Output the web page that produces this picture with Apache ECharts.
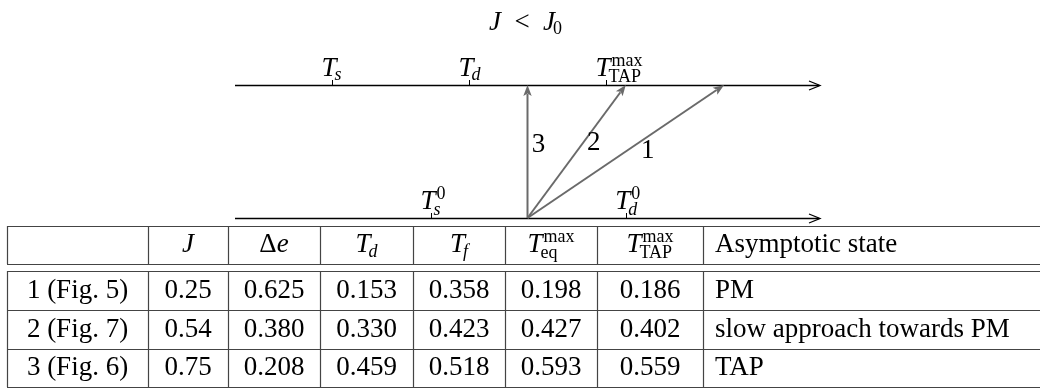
<!DOCTYPE html>
<html lang="en" style="height: 100%">
<head>
  <meta charset="utf-8">
</head>
<body style="height: 100%; margin: 0; background: #fff">
  <div id="container" style="width: 1040px; height: 391px"></div>

  <script type="text/javascript" src="https://cdn.jsdelivr.net/npm/echarts@6/dist/echarts.min.js"></script>
  <script type="text/javascript">
    // --- diagram data (schematic temperature axis, 0..100) ---
    var titleAtoms = [{ t: 'J', it: true }, { t: '\u2002<\u2002' }, { t: 'J', it: true, sub: '0' }];
    var topTickPos = [16.6, 40.0, 63.4];
    var topTickLabels = [
      [{ t: 'T', it: true, sub: 's', subIt: true }],
      [{ t: 'T', it: true, sub: 'd', subIt: true }],
      [{ t: 'T', it: true, sub: 'TAP', sup: 'max' }]
    ];
    var bottomTickPos = [33.5, 66.8];
    var bottomTickLabels = [
      [{ t: 'T', it: true, sub: 's', subIt: true, sup: '0' }],
      [{ t: 'T', it: true, sub: 'd', subIt: true, sup: '0' }]
    ];
    var arrowFrom = 50.0;            // on the lower axis
    var arrowTo = [83.6, 66.8, 50.0]; // on the upper axis
    var arrowNames = ['1', '2', '3'];

    // --- table data ---
    var headerCells = [
      [],
      [{ t: 'J', it: true }],
      [{ t: 'Δ' }, { t: 'e', it: true }],
      [{ t: 'T', it: true, sub: 'd', subIt: true }],
      [{ t: 'T', it: true, sub: 'f', subIt: true }],
      [{ t: 'T', it: true, sub: 'eq', sup: 'max' }],
      [{ t: 'T', it: true, sub: 'TAP', sup: 'max' }],
      [{ t: 'Asymptotic state' }]
    ];
    var runLabels = ['1 (Fig. 5)', '2 (Fig. 7)', '3 (Fig. 6)'];
    var jValues = [0.25, 0.54, 0.75];
    var deltaE = [0.625, 0.380, 0.208];
    var tD = [0.153, 0.330, 0.459];
    var tF = [0.358, 0.423, 0.518];
    var tEqMax = [0.198, 0.427, 0.593];
    var tTapMax = [0.186, 0.402, 0.559];
    var states = ['PM', 'slow approach towards PM', 'TAP'];

    // table layout (pixel-like units of the table grid)
    var colEdges = [7, 148, 228, 320, 413, 505, 597, 703, 1040];
    var rowTop = [0, 45, 84, 123];
    var rowBottom = [38, 84, 123, 161];

    var FONT = '"Liberation Serif", "DejaVu Serif", serif';
    var SIZE = 27;
    var SCRIPT = 18;
    var mctx = document.createElement('canvas').getContext('2d');
    function fontOf(size, it) { return (it ? 'italic ' : '') + size + 'px ' + FONT; }
    function tw(s, size, it) { mctx.font = fontOf(size, it); return mctx.measureText(s).width; }
    function textEl(text, x, y, font, fill) {
      return {
        type: 'text',
        style: {
          text: text, x: x, y: y, font: font, fill: fill || '#000',
          align: 'left', verticalAlign: 'middle', textAlign: 'left', textVerticalAlign: 'middle'
        }
      };
    }
    function atomLayout(a, size) {
      var ss = Math.round(size * SCRIPT / SIZE);
      var w = tw(a.t, size, a.it);
      var subX = w - (a.it ? 2 : 0);
      var supX = w + (a.it ? 1 : 0);
      var total = w;
      if (a.sub) total = Math.max(total, subX + tw(a.sub, ss, a.subIt));
      if (a.sup) total = Math.max(total, supX + tw(a.sup, ss, false));
      return { ss: ss, w: w, subX: subX, supX: supX, total: total };
    }
    function mathWidth(atoms, size) {
      return atoms.reduce(function (s, a) { return s + atomLayout(a, size).total; }, 0);
    }
    function mathEls(atoms, x, y, size, align, fill) {
      var width = mathWidth(atoms, size);
      var cx = align === 'center' ? x - width / 2 : (align === 'right' ? x - width : x);
      var els = [];
      atoms.forEach(function (a) {
        var L = atomLayout(a, size);
        var both = a.sub && a.sup;
        els.push(textEl(a.t, cx, y, fontOf(size, a.it), fill));
        if (a.sub) els.push(textEl(a.sub, cx + L.subX, y + size * (both ? 0.31 : 0.26), fontOf(L.ss, a.subIt), fill));
        if (a.sup) els.push(textEl(a.sup, cx + L.supX, y - size * (both ? 0.28 : 0.27), fontOf(L.ss, false), fill));
        cx += L.total;
      });
      return els;
    }
    // label whose main letter sits just left of the tick
    function tickLabelEls(atoms, tickX, y) {
      var mainW = tw(atoms[0].t, SIZE, atoms[0].it);
      return mathEls(atoms, tickX - 3 - mainW / 2, y, SIZE, 'left');
    }

    var dom = document.getElementById('container');
    var myChart = echarts.init(dom, null, { renderer: 'canvas' });

    var AXIS_COLOR = '#000';
    var ARROW_COLOR = '#6a6a6a';
    var TABLE_COLOR = '#444';

    function renderAxis(params, api) {
      var y = api.value(0);
      var p0 = api.coord([0, y]);
      var p1 = api.coord([100, y]);
      var yy = Math.round(p0[1]) + 0.5;
      var children = [
        { type: 'line', shape: { x1: p0[0], y1: yy, x2: p1[0] - 1, y2: yy }, style: { stroke: AXIS_COLOR, lineWidth: 1.3 } },
        { type: 'polyline', shape: { points: [[p1[0] - 11, yy - 4.5], [p1[0], yy], [p1[0] - 11, yy + 4.5]] },
          style: { stroke: AXIS_COLOR, lineWidth: 1.3, fill: null } }
      ];
      if (y === 1) {
        children = children.concat(mathEls(titleAtoms, api.coord([50, 1])[0] - 2, yy - 63, SIZE, 'center'));
      }
      return { type: 'group', children: children };
    }

    function makeTickRenderer(labels) {
      return function (params, api) {
        var p = api.coord([api.value(0), api.value(1)]);
        var x = Math.round(p[0]) + 0.5;
        var yy = Math.round(p[1]) + 0.5;
        var children = [
          { type: 'line', shape: { x1: x, y1: yy, x2: x, y2: yy - 5.5 }, style: { stroke: AXIS_COLOR, lineWidth: 1 } }
        ].concat(tickLabelEls(labels[params.dataIndex], p[0], yy - 17));
        return { type: 'group', children: children };
      };
    }

    var ARROW_LABEL_SHIFT = [[22, -1], [17, -8.5], [11, -6.5]];
    function renderArrow(params, api) {
      var a = api.coord([api.value(0), api.value(1)]);
      var b = api.coord([api.value(2), api.value(3)]);
      var dx = b[0] - a[0], dy = b[1] - a[1];
      var len = Math.sqrt(dx * dx + dy * dy);
      var ux = dx / len, uy = dy / len;
      var headL = 11, headW = 4.2;
      var bx = b[0] - ux * headL, by = b[1] - uy * headL;
      var shift = ARROW_LABEL_SHIFT[params.dataIndex];
      var name = arrowNames[params.dataIndex];
      var mx = (a[0] + b[0]) / 2 + shift[0], my = (a[1] + b[1]) / 2 + shift[1];
      return {
        type: 'group',
        children: [
          { type: 'line', shape: { x1: a[0], y1: a[1], x2: bx + ux * 2, y2: by + uy * 2 },
            style: { stroke: ARROW_COLOR, lineWidth: 2 } },
          { type: 'polygon', shape: { points: [
              [b[0], b[1]],
              [bx - uy * headW, by + ux * headW],
              [b[0] - ux * (headL - 2.5), b[1] - uy * (headL - 2.5)],
              [bx + uy * headW, by - ux * headW]
            ] }, style: { fill: ARROW_COLOR } },
          textEl(name, mx - tw(name, SIZE, false) / 2, my, fontOf(SIZE, false))
        ]
      };
    }

    function bodyCells(k) {
      return [
        [{ t: runLabels[k] }],
        [{ t: jValues[k].toFixed(2) }],
        [{ t: deltaE[k].toFixed(3) }],
        [{ t: tD[k].toFixed(3) }],
        [{ t: tF[k].toFixed(3) }],
        [{ t: tEqMax[k].toFixed(3) }],
        [{ t: tTapMax[k].toFixed(3) }],
        [{ t: states[k] }]
      ];
    }

    function renderRow(params, api) {
      var r = api.value(0);
      var top = rowTop[r], bottom = rowBottom[r];
      var cells = r === 0 ? headerCells : bodyCells(r - 1);
      var children = [];
      function hline(yv) {
        var p1 = api.coord([1040, yv]);
        var yy = Math.round(p1[1]) + 0.5;
        children.push({ type: 'line', shape: { x1: api.coord([colEdges[0], yv])[0], y1: yy, x2: p1[0], y2: yy },
          style: { stroke: TABLE_COLOR, lineWidth: 1.2 } });
      }
      if (r <= 1) hline(top);
      hline(bottom);
      for (var c = 0; c < colEdges.length - 1; c++) {
        var pt = api.coord([colEdges[c], top]);
        var pb = api.coord([colEdges[c], bottom]);
        var xx = Math.round(pt[0]) + 0.5;
        children.push({ type: 'line', shape: { x1: xx, y1: pt[1], x2: xx, y2: pb[1] },
          style: { stroke: TABLE_COLOR, lineWidth: 1.2 } });
        var cy = api.coord([0, (top + bottom) / 2])[1];
        var atoms = cells[c];
        if (!atoms.length) continue;
        if (c === colEdges.length - 2) {
          children = children.concat(mathEls(atoms, api.coord([colEdges[c], 0])[0] + 12, cy, SIZE, 'left'));
        } else {
          var mid = api.coord([(colEdges[c] + colEdges[c + 1]) / 2, 0])[0];
          children = children.concat(mathEls(atoms, mid, cy, SIZE, 'center'));
        }
      }
      return { type: 'group', children: children };
    }

    var option = {
      animation: false,
      backgroundColor: '#fff',
      grid: [
        { left: 235, right: 220, top: 85, bottom: 173 },
        { left: 0, right: 0, top: 226, bottom: 4 }
      ],
      xAxis: [
        { type: 'value', gridIndex: 0, min: 0, max: 100, show: false },
        { type: 'value', gridIndex: 1, min: 0, max: 1040, show: false }
      ],
      yAxis: [
        { type: 'value', gridIndex: 0, min: 0, max: 1, show: false },
        { type: 'value', gridIndex: 1, min: 0, max: 161, inverse: true, show: false }
      ],
      series: [
        { type: 'custom', name: 'axes', xAxisIndex: 0, yAxisIndex: 0, renderItem: renderAxis,
          data: [[1], [0]], encode: { y: 0 } },
        { type: 'custom', name: 'upper ticks', xAxisIndex: 0, yAxisIndex: 0,
          renderItem: makeTickRenderer(topTickLabels),
          data: topTickPos.map(function (p) { return [p, 1]; }) },
        { type: 'custom', name: 'lower ticks', xAxisIndex: 0, yAxisIndex: 0,
          renderItem: makeTickRenderer(bottomTickLabels),
          data: bottomTickPos.map(function (p) { return [p, 0]; }) },
        { type: 'custom', name: 'runs', xAxisIndex: 0, yAxisIndex: 0, renderItem: renderArrow,
          data: arrowTo.map(function (e) { return [arrowFrom, 0, e, 1]; }) },
        { type: 'custom', name: 'table', xAxisIndex: 1, yAxisIndex: 1, renderItem: renderRow,
          data: [[0], [1], [2], [3]], encode: { x: -1, y: -1 } }
      ]
    };

    myChart.setOption(option);
    window.addEventListener('resize', myChart.resize);
  </script>
</body>
</html>
